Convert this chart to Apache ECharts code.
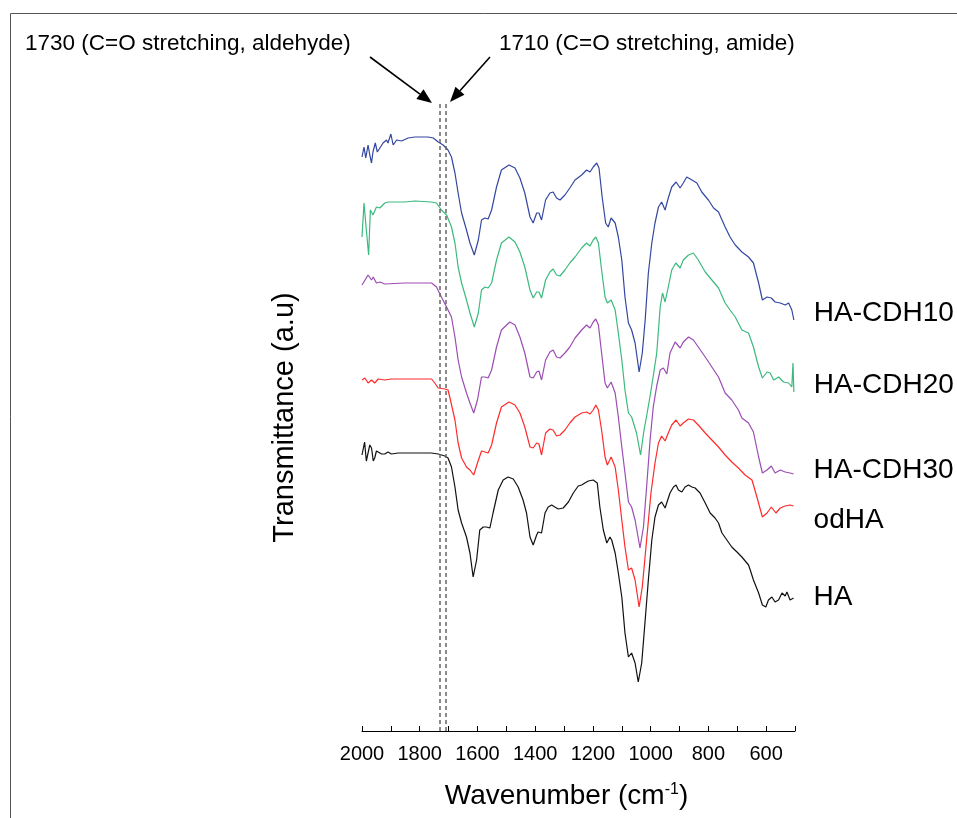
<!DOCTYPE html>
<html><head><meta charset="utf-8">
<script src="https://cdn.jsdelivr.net/npm/echarts@6/dist/echarts.min.js"></script>
<style>html,body{margin:0;padding:0;background:#fff}#c{width:957px;height:818px}</style>
</head><body><div id="c"></div>
<script>
const seriesNames = ['HA-CDH10', 'HA-CDH20', 'HA-CDH30', 'odHA', 'HA'];
const seriesColors = ['#3447a0', '#3cb97f', '#9b4db3', '#ff2a2a', '#111111'];

const haCdh10 = [[2000,57.4],[1993,58.4],[1987,57.3],[1979,58.6],[1973,57.6],[1967,56.8],[1962,57.9],[1954,58.8],[1947,57.9],[1938,58.3],[1927,58.8],[1915,59.1],[1910,58.8],[1900,59.7],[1892,58.6],[1880,59.1],[1863,59.0],[1840,59.3],[1817,59.4],[1794,59.4],[1771,59.4],[1753,59.3],[1736,58.9],[1719,58.6],[1702,58.1],[1690,57.4],[1678,55.8],[1667,53.8],[1655,51.8],[1638,50.1],[1626,48.8],[1611,47.6],[1597,49.1],[1586,51.1],[1574,51.3],[1563,51.2],[1551,52.1],[1534,54.4],[1517,56.1],[1491,56.6],[1470,56.3],[1453,55.3],[1436,53.8],[1418,51.4],[1407,50.8],[1395,51.8],[1387,51.8],[1378,51.1],[1364,53.1],[1349,53.8],[1338,53.9],[1326,53.3],[1314,53.1],[1297,53.6],[1280,54.3],[1262,55.1],[1239,55.6],[1222,56.1],[1210,55.9],[1199,56.4],[1187,56.8],[1179,56.3],[1168,53.4],[1156,50.8],[1147,50.4],[1137,51.3],[1123,50.8],[1112,49.4],[1100,47.1],[1089,43.4],[1077,40.8],[1066,40.1],[1054,38.8],[1040,35.9],[1029,37.8],[1019,41.1],[1008,45.8],[996,48.8],[985,50.8],[973,52.4],[962,52.9],[950,52.1],[939,53.3],[927,54.4],[912,54.9],[898,54.3],[887,54.8],[875,55.4],[857,55.1],[840,54.8],[823,53.9],[800,53.1],[782,52.3],[765,51.9],[742,50.4],[725,49.4],[707,48.6],[684,47.9],[661,47.4],[644,46.8],[626,44.8],[613,43.1],[597,43.4],[582,43.3],[569,42.9],[551,42.8],[534,42.6],[522,42.8],[511,42.1],[504,41.1]];

const haCdh20 = [[2000,49.4],[1993,52.8],[1985,50.1],[1977,47.6],[1971,52.1],[1962,51.6],[1950,52.4],[1938,52.3],[1921,52.8],[1910,52.9],[1887,52.9],[1852,52.9],[1817,53.0],[1759,52.9],[1742,52.8],[1725,52.1],[1707,51.6],[1690,50.4],[1678,48.8],[1667,46.4],[1655,44.8],[1638,43.1],[1626,41.8],[1611,40.4],[1597,41.8],[1586,44.1],[1574,44.4],[1563,44.3],[1551,44.8],[1534,47.1],[1517,48.8],[1491,49.4],[1470,48.9],[1453,47.9],[1436,46.4],[1418,44.1],[1407,43.3],[1395,43.9],[1387,43.9],[1378,43.3],[1364,45.1],[1349,45.9],[1338,46.2],[1326,45.6],[1314,45.5],[1297,46.1],[1280,46.8],[1262,47.4],[1239,48.3],[1222,48.8],[1210,48.5],[1199,49.1],[1190,49.4],[1181,48.8],[1170,46.1],[1158,43.4],[1150,42.8],[1137,43.1],[1123,42.1],[1112,39.8],[1100,37.1],[1089,34.1],[1077,31.8],[1066,31.4],[1049,29.8],[1035,27.6],[1023,30.1],[1014,31.5],[1002,33.5],[991,35.5],[979,37.8],[967,42.4],[959,43.8],[950,42.9],[939,44.4],[927,46.1],[913,46.8],[898,46.3],[887,47.1],[869,47.6],[852,47.8],[835,47.1],[811,45.9],[788,45.1],[765,44.3],[742,42.8],[725,42.1],[707,41.4],[684,40.1],[661,39.8],[644,38.4],[626,36.4],[613,35.3],[597,35.9],[586,35.8],[574,35.1],[557,35.4],[540,34.9],[522,34.8],[511,34.4],[507,36.8],[504,33.9]];

const haCdh30 = [[2000,44.6],[1979,45.6],[1967,45.1],[1961,45.4],[1950,44.8],[1938,44.9],[1921,44.7],[1852,44.8],[1759,44.8],[1742,44.4],[1725,43.4],[1707,42.4],[1690,41.4],[1678,39.4],[1667,37.1],[1655,35.4],[1638,33.8],[1626,32.8],[1613,31.8],[1600,33.1],[1586,35.4],[1574,35.4],[1563,35.3],[1551,36.1],[1534,38.4],[1517,40.1],[1488,40.9],[1470,40.6],[1453,39.4],[1436,37.8],[1418,35.4],[1407,35.3],[1395,35.9],[1387,36.0],[1378,35.1],[1364,37.1],[1349,37.9],[1338,38.1],[1326,37.4],[1314,37.3],[1297,37.8],[1280,38.4],[1262,39.3],[1239,40.1],[1222,40.6],[1210,40.3],[1199,40.9],[1190,41.2],[1181,40.6],[1170,37.8],[1158,34.8],[1150,34.3],[1137,34.9],[1123,33.8],[1112,31.4],[1100,28.4],[1089,25.8],[1077,22.9],[1066,22.4],[1054,21.1],[1037,18.3],[1025,20.4],[1014,24.4],[1002,29.1],[991,32.4],[979,34.5],[967,36.1],[956,36.3],[944,35.7],[933,37.8],[915,38.9],[898,38.3],[887,38.9],[869,39.4],[852,39.1],[835,38.4],[811,37.4],[788,36.4],[765,35.4],[742,33.8],[719,33.1],[696,32.1],[684,31.3],[661,30.8],[644,29.9],[626,27.4],[613,25.8],[597,26.1],[582,26.5],[569,25.8],[551,26.1],[534,25.9],[517,25.8],[505,25.7]];

const odHA = [[2000,35.1],[1990,35.3],[1979,34.8],[1967,35.1],[1956,34.8],[1944,35.2],[1921,35.1],[1898,35.2],[1852,35.2],[1794,35.2],[1759,35.2],[1748,34.8],[1736,34.3],[1713,34.2],[1702,34.1],[1696,33.4],[1678,31.1],[1667,28.8],[1655,27.3],[1638,26.4],[1626,26.1],[1613,25.6],[1600,26.8],[1586,28.0],[1574,27.9],[1563,27.8],[1551,28.6],[1534,30.8],[1517,32.4],[1491,32.9],[1470,32.6],[1453,31.8],[1436,30.4],[1418,28.4],[1407,28.3],[1395,28.8],[1387,28.7],[1378,27.6],[1364,29.8],[1349,30.2],[1338,30.1],[1326,29.5],[1314,29.6],[1297,30.1],[1280,30.8],[1262,31.4],[1239,31.8],[1222,31.9],[1210,31.7],[1199,32.1],[1190,32.6],[1181,32.1],[1170,30.1],[1158,27.4],[1150,26.6],[1137,27.4],[1123,26.4],[1112,24.1],[1100,21.1],[1089,18.4],[1077,16.1],[1066,16.3],[1054,15.1],[1040,12.4],[1029,14.4],[1014,19.1],[999,23.8],[985,26.8],[973,28.8],[962,29.5],[950,29.0],[939,29.8],[927,30.6],[912,31.1],[898,30.5],[887,30.8],[869,31.2],[852,31.1],[835,30.6],[811,29.8],[788,29.1],[765,28.4],[742,27.6],[719,26.9],[696,26.3],[673,25.6],[649,25.1],[632,23.4],[613,21.4],[597,21.8],[582,22.4],[566,21.8],[551,22.3],[534,22.5],[517,22.6],[505,22.5]];

const ha = [[2000,27.6],[1991,28.9],[1985,27.0],[1979,26.9],[1973,28.6],[1967,28.3],[1961,27.0],[1956,27.3],[1950,28.0],[1944,28.1],[1932,27.7],[1921,27.7],[1910,27.9],[1898,27.7],[1875,27.8],[1852,27.8],[1820,27.8],[1794,27.8],[1760,27.8],[1736,27.7],[1713,27.5],[1702,27.3],[1690,26.4],[1678,24.4],[1667,22.1],[1655,20.8],[1638,19.4],[1626,17.8],[1615,15.4],[1603,17.1],[1592,20.1],[1580,20.4],[1569,20.4],[1557,20.3],[1546,21.8],[1528,24.1],[1511,25.1],[1494,25.4],[1476,25.2],[1459,24.4],[1442,23.1],[1430,21.8],[1418,19.4],[1407,18.6],[1395,19.6],[1390,19.9],[1378,19.8],[1366,21.8],[1355,22.4],[1343,22.6],[1332,22.4],[1320,22.2],[1303,22.3],[1285,22.9],[1268,23.8],[1251,24.5],[1239,24.6],[1228,24.8],[1216,25.0],[1210,24.8],[1199,25.1],[1193,25.2],[1185,24.8],[1176,22.4],[1164,20.1],[1152,18.8],[1141,19.4],[1135,19.1],[1123,17.8],[1112,15.8],[1100,13.4],[1089,9.8],[1077,7.4],[1066,7.8],[1054,6.8],[1043,4.9],[1031,6.8],[1019,11.1],[1008,15.1],[996,19.1],[985,21.4],[973,22.6],[962,22.9],[950,22.3],[944,22.4],[933,23.8],[921,24.4],[912,24.6],[904,24.1],[892,23.9],[881,24.4],[869,24.6],[857,24.4],[846,24.3],[829,23.8],[811,22.8],[794,21.8],[777,21.3],[765,20.8],[753,19.8],[736,19.1],[719,18.4],[701,17.9],[684,17.4],[661,16.6],[655,16.1],[644,15.1],[626,13.8],[613,12.6],[601,12.4],[592,13.1],[580,13.4],[569,12.9],[557,13.1],[545,13.8],[534,13.5],[528,13.9],[517,13.1],[505,13.3]];

const xTickLabels = [2000, 1800, 1600, 1400, 1200, 1000, 800, 600];
const markerWavenumbers = [1730, 1710];
const markerTexts = ['1730 (C=O stretching, aldehyde)', '1710 (C=O stretching, amide)'];

const allData = [haCdh10, haCdh20, haCdh30, odHA, ha];
const labelOffsets = [-7, -7, -4, 14, -1];
const FONT = '"Liberation Sans", Arial, sans-serif';

const chart = echarts.init(document.getElementById('c'), null, {renderer: 'canvas'});

function arrow(x1, y1, x2, y2) {
  const len = 15, half = 6;
  const dx = x2 - x1, dy = y2 - y1, d = Math.hypot(dx, dy);
  const ux = dx / d, uy = dy / d;
  const bx = x2 - ux * len, by = y2 - uy * len;
  return [
    {type: 'line', shape: {x1: x1, y1: y1, x2: bx, y2: by}, style: {stroke: '#000', lineWidth: 1.6}, silent: true},
    {type: 'polygon', shape: {points: [[x2, y2], [bx - uy * half, by + ux * half], [bx + uy * half, by - ux * half]]}, style: {fill: '#000'}, silent: true}
  ];
}

const series = allData.map((d, i) => ({
  name: seriesNames[i],
  type: 'line',
  data: d,
  symbol: 'none',
  smooth: false,
  clip: false,
  lineStyle: {color: seriesColors[i], width: 1.2},
  itemStyle: {color: seriesColors[i]},
  endLabel: {
    show: true,
    formatter: seriesNames[i],
    distance: 0,
    align: 'left',
    verticalAlign: 'middle',
    offset: [20, labelOffsets[i]],
    color: '#000',
    fontSize: 28,
    fontFamily: FONT
  },
  markLine: i === allData.length - 1 ? {
    silent: true,
    symbol: 'none',
    label: {show: false},
    lineStyle: {type: [4, 3], color: '#666', width: 1.5},
    data: markerWavenumbers.map(w => ({xAxis: w}))
  } : undefined
}));

const option = {
  animation: false,
  backgroundColor: '#fff',
  textStyle: {fontFamily: FONT},
  grid: {left: 362, right: 162, top: 104, bottom: 87},
  xAxis: {
    type: 'value',
    inverse: true,
    min: 500,
    max: 2000,
    interval: 100,
    name: 'Wavenumber (cm{sup|-1})',
    nameLocation: 'middle',
    nameGap: 51,
    nameTextStyle: {
      color: '#000', fontSize: 28, fontFamily: FONT, padding: [0, 24, 0, 0],
      rich: {sup: {fontSize: 16, fontFamily: FONT, color: '#000', verticalAlign: 'top'}}
    },
    axisLine: {lineStyle: {color: '#000', width: 1}},
    axisTick: {inside: true, length: 5, lineStyle: {color: '#000'}},
    axisLabel: {
      color: '#000', fontSize: 20, fontFamily: FONT, margin: 13,
      formatter: v => (xTickLabels.indexOf(v) >= 0 ? String(v) : '')
    },
    splitLine: {show: false}
  },
  yAxis: {
    type: 'value',
    min: 0,
    max: 62.7,
    name: 'Transmittance (a.u)',
    nameLocation: 'middle',
    nameGap: 63,
    nameTextStyle: {color: '#000', fontSize: 29, fontFamily: FONT},
    axisLine: {show: false},
    axisTick: {show: false},
    axisLabel: {show: false},
    splitLine: {show: false}
  },
  series: series,
  graphic: [
    {type: 'rect', shape: {x: 10.5, y: 13.5, width: 1200, height: 1200}, style: {fill: 'none', stroke: '#555', lineWidth: 1}, silent: true, z: -1},
    {type: 'text', left: 25, top: 32, style: {text: markerTexts[0], fill: '#000', fontSize: 22.5, fontFamily: FONT}, silent: true},
    {type: 'text', left: 499, top: 32, style: {text: markerTexts[1], fill: '#000', fontSize: 22.5, fontFamily: FONT}, silent: true},
    ...arrow(370, 57, 432, 103),
    ...arrow(490, 57, 450, 102)
  ]
};
chart.setOption(option);
</script>
</body></html>
